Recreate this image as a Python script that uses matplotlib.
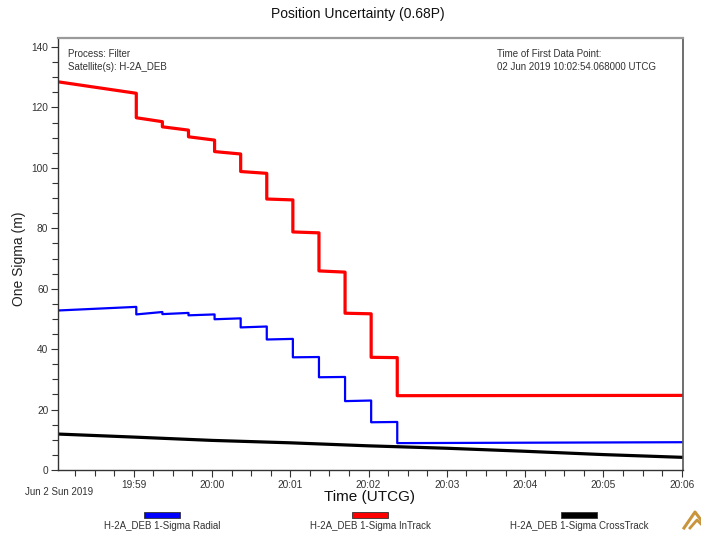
import pandas as pd
import matplotlib.pyplot as plt
import matplotlib.dates as mdates
from matplotlib.patches import Rectangle
from matplotlib.lines import Line2D

plt.rcParams['font.family'] = ['Liberation Sans', 'DejaVu Sans']

day = "2019-06-02 "
t_start = pd.Timestamp(day + "19:58:02")
t_end = pd.Timestamp(day + "20:06:00")

# filter update epochs (every 20 s)
step_times = ["19:59:02", "19:59:22", "19:59:42", "20:00:02", "20:00:22", "20:00:42",
              "20:01:02", "20:01:22", "20:01:42", "20:02:02", "20:02:22"]

radial_start, radial_end = 52.8, 9.2
radial_before = [54.0, 52.3, 52.0, 51.5, 50.2, 47.5, 43.4, 37.4, 30.8, 23.0, 15.9]
radial_after = [51.5, 51.6, 51.2, 49.9, 47.2, 43.2, 37.3, 30.7, 22.8, 15.8, 8.9]

intrack_start, intrack_end = 128.5, 24.7
intrack_before = [124.7, 115.3, 112.5, 109.2, 104.6, 98.2, 89.4, 78.5, 65.5, 51.7, 37.2]
intrack_after = [116.6, 113.6, 110.3, 105.4, 98.8, 89.7, 78.8, 65.9, 51.9, 37.3, 24.6]

crosstrack_times = ["19:58:02", "19:59:00", "20:00:00", "20:01:00", "20:02:00",
                    "20:03:00", "20:04:00", "20:05:00", "20:06:00"]
crosstrack_vals = [11.9, 10.9, 9.8, 9.0, 8.0, 7.2, 6.2, 5.1, 4.2]

series_names = ["H-2A_DEB 1-Sigma Radial", "H-2A_DEB 1-Sigma InTrack",
                "H-2A_DEB 1-Sigma CrossTrack"]
series_colors = ["#0000ff", "#ff0000", "#000000"]


def step_series(start, before, after, end):
    ts = [t_start]
    vs = [start]
    for t, b, a in zip(step_times, before, after):
        ts += [pd.Timestamp(day + t)] * 2
        vs += [b, a]
    ts.append(t_end)
    vs.append(end)
    return ts, vs


fig = plt.figure(figsize=(7.01, 5.36), dpi=100)
ax = fig.add_axes([58 / 701, 1 - 470 / 536, 625 / 701, 432 / 536])

rt, rv = step_series(radial_start, radial_before, radial_after, radial_end)
it, iv = step_series(intrack_start, intrack_before, intrack_after, intrack_end)
ct = [pd.Timestamp(day + t) for t in crosstrack_times]

ax.plot(rt, rv, color=series_colors[0], lw=1.6)
ax.plot(it, iv, color=series_colors[1], lw=2.3)
ax.plot(ct, crosstrack_vals, color=series_colors[2], lw=2.3)

ax.set_xlim(t_start, t_end + pd.Timedelta(seconds=1))
ax.set_ylim(0, 143)

ax.xaxis.set_major_locator(mdates.MinuteLocator())
ax.xaxis.set_minor_locator(mdates.SecondLocator(bysecond=[15, 30, 45]))
ax.xaxis.set_major_formatter(mdates.DateFormatter("%H:%M"))
ax.set_yticks(range(0, 141, 20))
ax.set_yticks(range(0, 141, 5), minor=True)

ax.tick_params(which='both', direction='out', labelsize=7.3, colors='#333333',
               labelcolor='#333333', width=0.8)
ax.tick_params(which='major', length=5)
ax.tick_params(which='minor', length=4)
ax.tick_params(axis='x', pad=2)
ax.tick_params(axis='y', pad=2)

for side in ['left', 'bottom']:
    ax.spines[side].set_color('#333333')
    ax.spines[side].set_linewidth(1.0)
ax.spines['top'].set_color('#9a9a9a')
ax.spines['top'].set_linewidth(1.6)
ax.spines['right'].set_color('#555555')
ax.spines['right'].set_linewidth(1.2)

fig.text(358 / 701, 1 - 14 / 536, "Position Uncertainty (0.68P)", ha='center', va='center',
         fontsize=10, color='#111111')
ax.set_ylabel("One Sigma (m)", fontsize=10, color='#222222')
ax.yaxis.set_label_coords(-32 / 625, 0.49)
fig.text(370 / 701, 1 - 497 / 536, "Time (UTCG)", ha='center', va='center', fontsize=11,
         color='#111111')
fig.text(25 / 701, 1 - 492 / 536, "Jun 2 Sun 2019", ha='left', va='center', fontsize=7,
         color='#333333')

ax.text(0.016, 0.975, "Process: Filter\nSatellite(s): H-2A_DEB", transform=ax.transAxes,
        ha='left', va='top', fontsize=7, color='#333333', linespacing=1.35)
ax.text(0.703, 0.975, "Time of First Data Point:\n02 Jun 2019 10:02:54.068000 UTCG",
        transform=ax.transAxes, ha='left', va='top', fontsize=7, color='#333333',
        linespacing=1.35)

# legend: swatch above each label
for name, color, cx in zip(series_names, series_colors, [162, 370, 579]):
    fig.add_artist(Rectangle(((cx - 18) / 701, 1 - 518 / 536), 36 / 701, 6 / 536,
                             transform=fig.transFigure, facecolor=color,
                             edgecolor='#333333', lw=0.6))
    fig.text(cx / 701, 1 - 526 / 536, name, ha='center', va='center', fontsize=7,
             color='#333333')

# corner logo
gold = '#c8943c'
fig.add_artist(Line2D([684 / 701, 695 / 701, 701 / 701], [1 - 528 / 536, 1 - 512 / 536, 1 - 520 / 536],
                      transform=fig.transFigure, color=gold, lw=2.2))
fig.add_artist(Line2D([690 / 701, 697 / 701, 701 / 701], [1 - 528 / 536, 1 - 520 / 536, 1 - 524 / 536],
                      transform=fig.transFigure, color=gold, lw=2.0))

fig.savefig("out.png", dpi=100)
